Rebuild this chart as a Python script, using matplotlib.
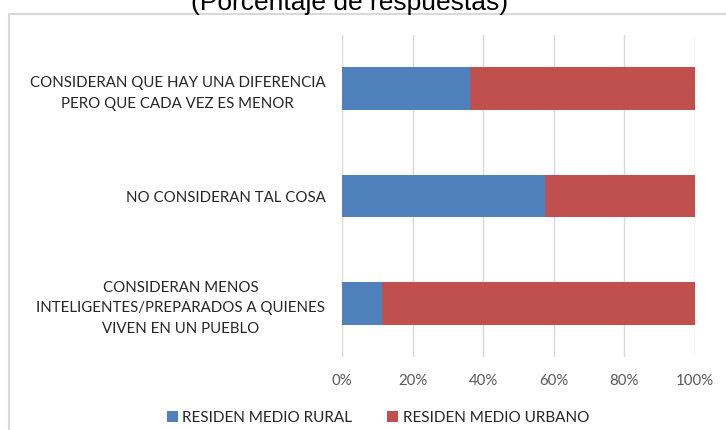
import matplotlib.pyplot as plt
from matplotlib.patches import Rectangle
from matplotlib.ticker import PercentFormatter

# categorías (de abajo hacia arriba, como en el gráfico)
categorias = [
    "CONSIDERAN MENOS\nINTELIGENTES/PREPARADOS A QUIENES\nVIVEN EN UN PUEBLO",
    "NO CONSIDERAN TAL COSA",
    "CONSIDERAN QUE HAY UNA DIFERENCIA\nPERO QUE CADA VEZ ES MENOR",
]
rural = [11.2, 57.5, 36.4]
urbano = [88.8, 42.5, 63.6]
series = ["RESIDEN MEDIO RURAL", "RESIDEN MEDIO URBANO"]
colores = ["#4F81BD", "#C0504D"]

plt.rcParams['font.family'] = ['Lato', 'DejaVu Sans']

fig = plt.figure(figsize=(7.26, 4.30), dpi=100)
W, H = 726, 430

# marco del gráfico (recortado a la derecha y abajo)
fig.patches.append(Rectangle((9 / W, -0.1), 1.2, 1 - 14 / H + 0.1,
                             transform=fig.transFigure, fill=False,
                             edgecolor="#D9D9D9", linewidth=1.5))

# título recortado arriba, como en la imagen original
fig.text(350 / W, 1 - 10 / H, "(Porcentaje de respuestas)",
         ha='center', va='baseline', fontsize=19,
         family='Liberation Sans', color='black')

ax = fig.add_axes([342 / W, 1 - 357 / H, 353 / W, 322 / H])

y = range(len(categorias))
ax.barh(y, rural, height=0.4, color=colores[0], label=series[0], zorder=3)
ax.barh(y, urbano, left=rural, height=0.4, color=colores[1], label=series[1], zorder=3)

ax.set_xlim(0, 100)
ax.set_ylim(-0.5, 2.5)
ax.set_xticks([0, 20, 40, 60, 80, 100])
ax.xaxis.set_major_formatter(PercentFormatter(decimals=0))
ax.set_yticks(list(y))
ax.set_yticklabels(categorias)
for lab in ax.get_yticklabels():
    lab.set_multialignment('center')
    lab.set_linespacing(1.6)
    lab.set_fontsize(10.8)

ax.grid(axis='x', color='#D9D9D9', linewidth=1, zorder=0)
for s in ax.spines.values():
    s.set_visible(False)
ax.tick_params(axis='both', length=0, labelsize=10.8, colors='#595959')
ax.tick_params(axis='y', labelcolor='#262626', pad=12)
ax.tick_params(axis='x', pad=12)

ax.legend(loc='center', bbox_to_anchor=(378 / W, 1 - 418 / H),
          bbox_transform=fig.transFigure, ncol=2, frameon=False,
          fontsize=11, handlelength=0.7, handleheight=0.7,
          handletextpad=0.3, columnspacing=2.3, labelcolor='#262626')

plt.savefig('out.png', dpi=100)
